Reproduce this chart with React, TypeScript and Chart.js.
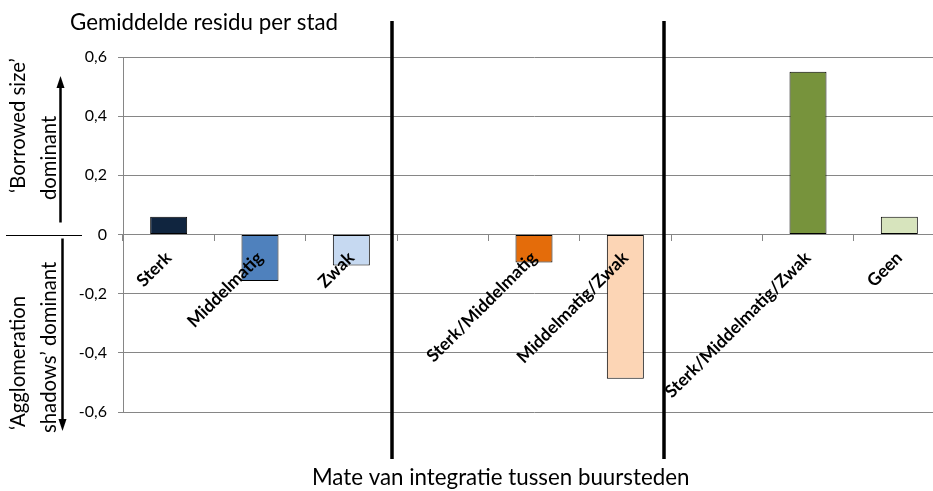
import React, { useEffect, useRef } from 'react';
import { Chart, registerables } from 'chart.js';

Chart.register(...registerables);

const categories = ['Sterk', 'Middelmatig', 'Zwak', '', 'Sterk/Middelmatig', 'Middelmatig/Zwak', '', 'Sterk/Middelmatig/Zwak', 'Geen'];
const residuals: (number | null)[] = [0.06, -0.157, -0.105, null, -0.095, -0.488, null, 0.55, 0.06];
const barColors = ['#10253F', '#4F81BD', '#C6D9F1', '#FFFFFF', '#E46C0A', '#FCD5B5', '#FFFFFF', '#77933C', '#D7E4BD'];
const yMin = -0.6;
const yMax = 0.6;
const yStep = 0.2;
const dividerPositions = [2.44, 5.42];
const chartTitle = 'Gemiddelde residu per stad';
const xTitle = 'Mate van integratie tussen buursteden';
const upperLabel = ['\u2018Borrowed size\u2019', 'dominant'];
const lowerLabel = ['\u2018Agglomeration', 'shadows\u2019 dominant'];

const FONT = 'Lato, "Open Sans", sans-serif';

const decorPlugin = {
  id: 'decor',
  afterDraw(chart: any) {
    const { ctx, scales } = chart;
    const x = scales.x;
    const y = scales.y;
    const y0 = y.getPixelForValue(0);
    ctx.save();
    // dividers
    ctx.strokeStyle = '#000000';
    ctx.lineWidth = 3.5;
    dividerPositions.forEach((p) => {
      const px = Math.round(x.getPixelForValue(p));
      ctx.beginPath();
      ctx.moveTo(px, 21);
      ctx.lineTo(px, 459);
      ctx.stroke();
    });
    // left separator
    ctx.lineWidth = 1.2;
    ctx.beginPath();
    ctx.moveTo(6, Math.round(y0) + 0.5);
    ctx.lineTo(82, Math.round(y0) + 0.5);
    ctx.stroke();
    // arrows
    const arrow = (ax: number, fromY: number, tipY: number) => {
      const dir = tipY < fromY ? 1 : -1;
      ctx.lineWidth = 2.5;
      ctx.beginPath();
      ctx.moveTo(ax, fromY);
      ctx.lineTo(ax, tipY + dir * 10);
      ctx.stroke();
      ctx.beginPath();
      ctx.moveTo(ax, tipY);
      ctx.lineTo(ax - 4, tipY + dir * 12);
      ctx.lineTo(ax + 4, tipY + dir * 12);
      ctx.closePath();
      ctx.fillStyle = '#000';
      ctx.fill();
    };
    arrow(60.5, y0 - 12, 76);
    arrow(62.5, y0 + 4, 431);
    // texts
    ctx.fillStyle = '#000';
    ctx.font = '22.3px ' + FONT;
    ctx.textAlign = 'left';
    ctx.textBaseline = 'alphabetic';
    ctx.fillText(chartTitle, 70, 30);
    ctx.fillText(xTitle, 312, 485);
    ctx.font = '20.3px ' + FONT;
    const vtext = (t: string, bx: number, by: number) => {
      ctx.save();
      ctx.translate(bx, by);
      ctx.rotate(-Math.PI / 2);
      ctx.fillText(t, 0, 0);
      ctx.restore();
    };
    vtext(upperLabel[0], 25, 193);
    vtext(upperLabel[1], 56, 200);
    vtext(lowerLabel[0], 25, 430);
    vtext(lowerLabel[1], 56, 433);
    ctx.restore();
  },
};

export default function App() {
  const ref = useRef<HTMLCanvasElement | null>(null);
  useEffect(() => {
    if (!ref.current) return;
    const chart = new Chart(ref.current, {
      type: 'bar',
      data: {
        labels: categories,
        datasets: [
          {
            data: residuals,
            backgroundColor: barColors,
            borderColor: '#000000',
            borderWidth: 1,
            borderSkipped: false,
            barPercentage: 0.405,
            categoryPercentage: 1,
          },
        ],
      },
      options: {
        animation: false,
        responsive: false,
        maintainAspectRatio: false,
        layout: { padding: { left: 0, top: 57, right: 15, bottom: 79 } },
        plugins: { legend: { display: false }, tooltip: { enabled: false }, title: { display: false } },
        scales: {
          x: {
            position: { y: 0 } as any,
            grid: { drawOnChartArea: false, drawTicks: true, tickLength: 6, color: '#868686', offset: true },
            border: { color: '#868686', width: 1 },
            ticks: {
              z: 1,
              autoSkip: false,
              maxRotation: 45,
              minRotation: 45,
              padding: 7,
              color: '#000',
              font: { family: FONT, size: 17.5, weight: 'bold' },
            },
          },
          y: {
            min: yMin,
            max: yMax,
            afterFit(scale: any) {
              scale.width = 123;
            },
            ticks: {
              stepSize: yStep,
              padding: 11,
              color: '#000',
              font: { family: FONT, size: 16 },
              callback: (v: any) => {
                const n = Number(v);
                if (Math.abs(n) < 1e-9) return '0';
                return n.toFixed(1).replace('.', ',');
              },
            },
            grid: { color: '#868686', tickLength: 5, drawTicks: true },
            border: { color: '#868686', width: 1 },
          },
        },
      },
      plugins: [decorPlugin],
    });
    return () => chart.destroy();
  }, []);
  return (
    <div style={{ position: 'absolute', left: 0, top: 0, width: 933, height: 491, overflow: 'hidden', background: '#fff' }}>
      <canvas ref={ref} width={960} height={491} style={{ width: 960, height: 491, display: 'block' }} />
    </div>
  );
}
